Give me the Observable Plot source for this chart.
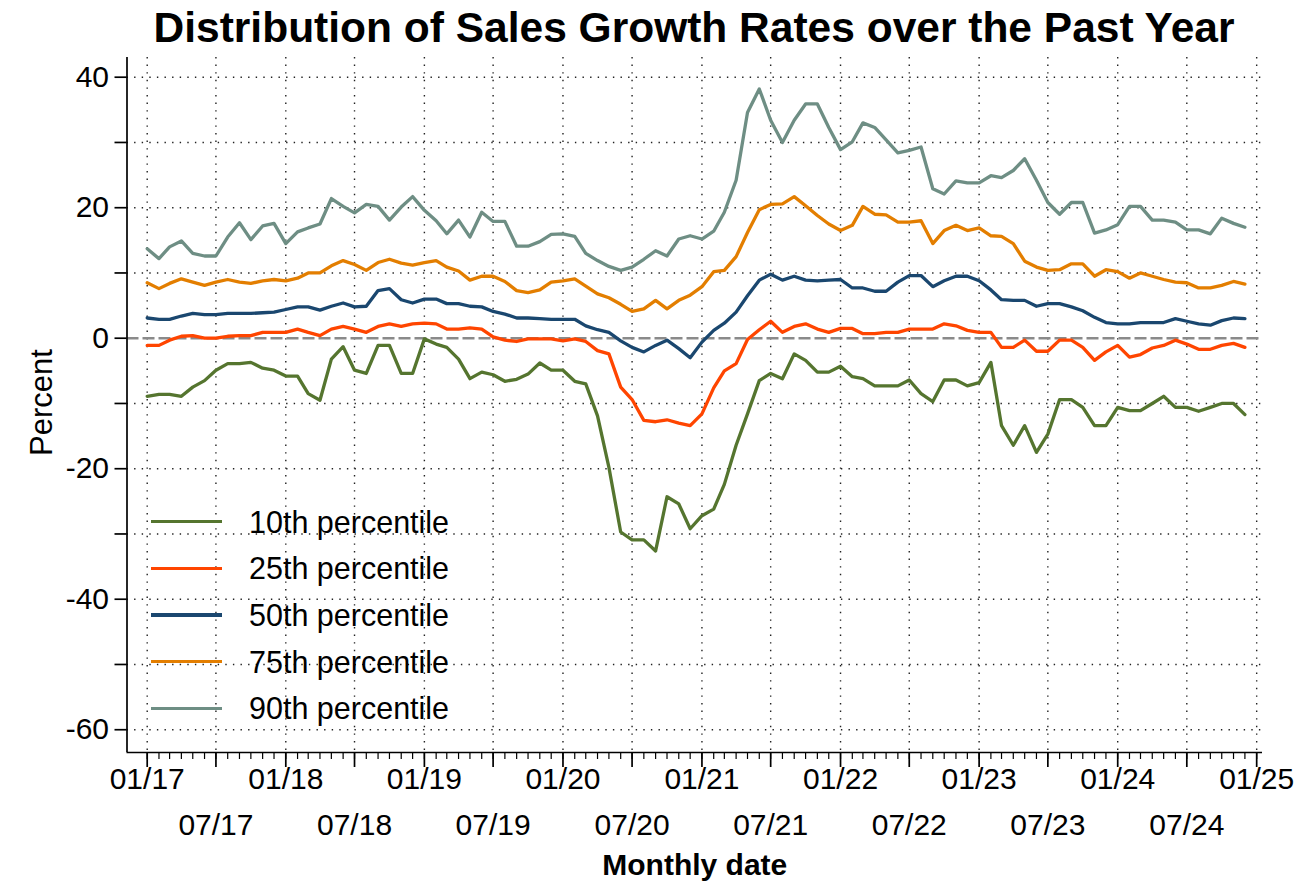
<!DOCTYPE html>
<html>
<head>
<meta charset="utf-8">
<script src="https://cdn.jsdelivr.net/npm/d3@7"></script>
<script src="https://cdn.jsdelivr.net/npm/@observablehq/plot@0.6"></script>
<style>
  body { margin: 0; background: #fff; font-family: "Liberation Sans", Arial, sans-serif; }
  #wrap { position: relative; width: 1298px; height: 886px; overflow: hidden; background: #fff; }
  #title { position: absolute; left: 126px; width: 1136px; top: 0; height: 56px; line-height: 56px;
           text-align: center; font-weight: bold; font-size: 42.5px; color: #000; white-space: nowrap; }
  #chart { position: absolute; left: 0; top: 56px; }
  #legend { position: absolute; left: 0; top: 0; }
  .lg-line { position: absolute; left: 151px; width: 71px; height: 3.4px; }
  .lg-text { position: absolute; left: 249px; font-size: 30.5px; line-height: 40px; height: 40px; color: #000; white-space: nowrap; }
</style>
</head>
<body>
<div id="wrap">
  <div id="title"></div>
  <div id="chart"></div>
  <div id="legend"></div>
</div>
<script>
// ---- Data, monthly Jan 2017 – Dec 2024 ----
const titleText = "Distribution of Sales Growth Rates over the Past Year";
const xLabel = "Monthly date";
const yLabel = "Percent";

const seriesNames = ["10th percentile", "25th percentile", "50th percentile", "75th percentile", "90th percentile"];
const seriesColors = ["#55752f", "#ff4500", "#1a476f", "#e37e00", "#6e8e84"];

const p10 = [-8.9, -8.6, -8.6, -8.9, -7.5, -6.5, -4.9, -3.9, -3.9, -3.7, -4.6, -4.9, -5.8, -5.8, -8.5, -9.5, -3.2, -1.3, -4.9, -5.4, -1.1, -1.1, -5.4, -5.4, -0.1,
  -0.9, -1.4, -3.2, -6.2, -5.2, -5.6, -6.6, -6.3, -5.5, -3.8, -4.9, -4.9, -6.6, -7.0,
  -11.9, -19.8, -29.7, -30.9, -30.9, -32.6, -24.3, -25.4, -29.2, -27.2, -26.2, -22.4, -16.4, -11.6, -6.5, -5.4, -6.2, -2.4,
  -3.4, -5.2, -5.2, -4.3, -5.9, -6.2, -7.3, -7.3, -7.3, -6.4, -8.5, -9.7, -6.4, -6.4, -7.3, -6.8, -3.7,
  -13.4, -16.4, -13.4, -17.5, -14.7, -9.4, -9.4, -10.6, -13.4, -13.4, -10.6, -11.1, -11.1, -10.0, -8.9, -10.6, -10.6, -11.2, -10.6, -10.0, -10.0, -11.7];

const p25 = [-1.1, -1.1, -0.3, 0.3, 0.4, 0.0, 0.0, 0.3, 0.4, 0.4, 0.9, 0.9, 0.9, 1.4, 0.9, 0.4, 1.4, 1.8, 1.4, 0.9, 1.8, 2.2, 1.8, 2.2, 2.3,
  2.2, 1.4, 1.4, 1.6, 1.4, 0.2, -0.3, -0.5, -0.1, -0.1, -0.1, -0.4, -0.1, -0.5, -1.9, -2.4,
  -7.5, -9.4, -12.6, -12.8, -12.5, -13.0, -13.4, -11.6, -7.6, -5.0, -3.9, -0.2, 1.3,
  2.6, 0.9, 1.8, 2.2, 1.4, 0.9, 1.5, 1.5, 0.7, 0.7, 0.9, 0.9, 1.4, 1.4, 1.4, 2.2, 1.9, 1.2, 0.9, 0.9,
  -1.4, -1.4, -0.3, -2.0, -2.0, -0.3, -0.3, -1.4, -3.4, -2.1, -1.1, -2.9, -2.5, -1.5, -1.1, -0.3, -0.9, -1.7, -1.7, -1.1, -0.8, -1.4];

const p50 = [3.1, 2.9, 2.9, 3.4, 3.8, 3.6, 3.6, 3.8, 3.8, 3.8, 3.9, 4.0, 4.4, 4.8, 4.8, 4.3, 4.9, 5.4, 4.8, 4.9, 7.3, 7.6, 5.9, 5.4, 6.0,
  6.0, 5.3, 5.3, 4.9, 4.8, 4.1, 3.7, 3.1, 3.1, 3.0, 2.9, 2.9, 2.9, 1.9, 1.3, 0.9, -0.4, -1.4, -2.1, -1.1, -0.3, -1.6, -3.0, -0.6, 1.2,
  2.3, 4.0, 6.5, 8.9, 9.8, 8.9, 9.5, 8.9, 8.8, 8.9, 9.0, 7.7, 7.7, 7.2, 7.2, 8.6, 9.6, 9.6, 7.9, 8.8, 9.5, 9.5, 8.8, 7.4, 5.9, 5.8,
  5.8, 4.9, 5.3, 5.3, 4.8, 4.2, 3.2, 2.4, 2.2, 2.2, 2.4, 2.4, 2.4, 3.0, 2.6, 2.2, 2.0, 2.7, 3.1, 3.0];

const p75 = [8.5, 7.6, 8.4, 9.1, 8.6, 8.1, 8.6, 9.0, 8.6, 8.4, 8.8, 9.0, 8.8, 9.2, 10.0, 10.0, 11.1, 11.9, 11.3, 10.4, 11.6, 12.1, 11.5, 11.2, 11.6,
  11.9, 10.9, 10.3, 8.9, 9.5, 9.5, 8.7, 7.3, 7.0, 7.4, 8.6, 8.8, 9.1, 8.0, 6.8, 6.2, 5.2, 4.1, 4.5, 5.8, 4.5, 5.8, 6.6, 7.9, 10.2, 10.4,
  12.5, 16.2, 19.7, 20.5, 20.6, 21.7, 20.3, 18.8, 17.5, 16.5, 17.3, 20.2, 19.0, 18.9, 17.8, 17.8, 18.0, 14.5, 16.5, 17.3, 16.5, 16.9, 15.7, 15.6, 14.5,
  11.8, 10.9, 10.4, 10.5, 11.4, 11.4, 9.5, 10.5, 10.2, 9.2, 10.0, 9.5, 9.0, 8.6, 8.5, 7.7, 7.7, 8.1, 8.7, 8.3];

const p90 = [13.7, 12.2, 14.0, 14.9, 13.0, 12.6, 12.6, 15.5, 17.7, 15.1, 17.2, 17.6, 14.5, 16.3, 16.9, 17.5, 21.4, 20.2, 19.2, 20.5, 20.2, 18.1, 20.1, 21.7, 19.6,
  18.0, 16.0, 18.1, 15.5, 19.3, 17.9, 17.9, 14.1, 14.1, 14.8, 15.9, 16.0, 15.6, 13.0, 11.9, 11.0, 10.4, 10.9, 12.1, 13.4, 12.6, 15.2, 15.7, 15.2, 16.4, 19.3,
  24.2, 34.6, 38.2, 33.4, 30.0, 33.4, 35.9, 35.9, 32.3, 28.9, 30.1, 33.0, 32.3, 30.4, 28.4, 28.8, 29.3, 22.9, 22.1, 24.1, 23.8, 23.8, 24.9, 24.6, 25.7,
  27.5, 24.2, 20.8, 19.0, 20.8, 20.8, 16.1, 16.6, 17.4, 20.2, 20.2, 18.1, 18.1, 17.8, 16.6, 16.6, 16.0, 18.4, 17.6, 17.0];

const yTickValues = [-60, -50, -40, -30, -20, -10, 0, 10, 20, 30, 40];
const yGridValues = [-60, -50, -40, -30, -20, -10, 10, 20, 30, 40];

// ---- Build table ----
const months = d3.utcMonth.range(new Date(Date.UTC(2017, 0, 1)), new Date(Date.UTC(2025, 0, 1)));
const allSeries = [p10, p25, p50, p75, p90];
const rows = allSeries.flatMap((vals, k) => vals.map((v, i) => ({ date: months[i], value: v, name: seriesNames[k] })));

const tickMonths = d3.utcMonth.range(new Date(Date.UTC(2017, 0, 1)), new Date(Date.UTC(2025, 0, 2)));
const sixMonths = tickMonths.filter(d => d.getUTCMonth() % 6 === 0);
const jans = tickMonths.filter(d => d.getUTCMonth() === 0);
const juls = tickMonths.filter(d => d.getUTCMonth() === 6);
const fmt = d3.utcFormat("%m/%y");

const xDomain = [new Date(Date.UTC(2016, 10, 8, 19)), new Date(Date.UTC(2025, 0, 16, 8))];
const yDomain = [-63.49, 43.02];

const dotted = { stroke: "#222", strokeOpacity: 1, strokeWidth: 1.4, strokeDasharray: "1.4,6.2" };

const chart = Plot.plot({
  width: 1298,
  height: 830,
  marginLeft: 126.5,
  marginRight: 36,
  marginTop: 1,
  marginBottom: 134,
  style: { fontFamily: "'Liberation Sans', Arial, sans-serif", fontSize: "30px", color: "#000", background: "#fff", overflow: "visible" },
  x: { type: "utc", domain: xDomain },
  y: { domain: yDomain },
  color: { domain: seriesNames, range: seriesColors },
  marks: [
    Plot.gridY({ ticks: yGridValues, ...dotted }),
    Plot.gridX({ ticks: sixMonths, ...dotted }),
    Plot.ruleY([0], { stroke: "#8a8a8a", strokeWidth: 2.5, strokeDasharray: "12,4" }),
    Plot.line(rows, { x: "date", y: "value", z: "name", stroke: "name", strokeWidth: 3.3 }),
    Plot.ruleX([xDomain[0]], { stroke: "#000", strokeWidth: 1.7 }),
    Plot.ruleY([yDomain[0]], { stroke: "#000", strokeWidth: 1.7 }),
    Plot.axisY({ ticks: yTickValues, tickSize: 12, tickPadding: 6, strokeWidth: 1.7,
      tickFormat: d => (d % 20 === 0 ? String(d) : ""), label: null, fontSize: 30 }),
    Plot.axisX({ ticks: tickMonths, tickSize: 7, strokeWidth: 1.2, tickFormat: () => "", label: null }),
    Plot.axisX({ ticks: jans, tickSize: 15, tickPadding: 0, strokeWidth: 1.7, tickFormat: fmt, label: null, fontSize: 30 }),
    Plot.axisX({ ticks: juls, tickSize: 15, tickPadding: 46, strokeWidth: 1.7, tickFormat: fmt, label: null, fontSize: 30 }),
    Plot.text([yLabel], { text: d => d, frameAnchor: "top-left", textAnchor: "middle", dx: -97, dy: 345, rotate: -90, fontSize: 31, fill: "#000" }),
    Plot.text([xLabel], { text: d => d, frameAnchor: "bottom", dy: 122, fontWeight: "bold", fontSize: 30, fill: "#000" })
  ]
});
document.getElementById("chart").appendChild(chart);
document.getElementById("title").textContent = titleText;

// ---- Legend (inside the plot area, lower left) ----
const legend = document.getElementById("legend");
seriesNames.forEach((name, k) => {
  const cy = 521.7 + 46.65 * k;
  const line = document.createElement("div");
  line.className = "lg-line";
  line.style.top = (cy - 1.7) + "px";
  line.style.background = seriesColors[k];
  legend.appendChild(line);
  const txt = document.createElement("div");
  txt.className = "lg-text";
  txt.style.top = (cy - 20) + "px";
  txt.textContent = name;
  legend.appendChild(txt);
});
</script>
</body>
</html>
